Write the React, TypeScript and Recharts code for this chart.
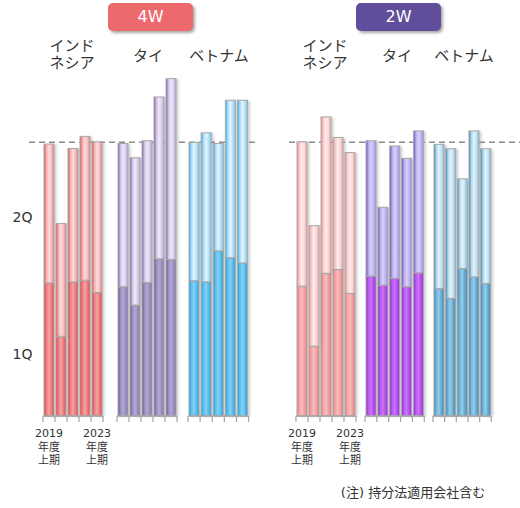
import React from 'react';
import { BarChart, Bar, XAxis, YAxis, ReferenceLine } from 'recharts';

// ---- data ----
const years = ['2019', '2020', '2021', '2022', '2023'];
const periodLines = ['年度', '上期'];
const segmentLabels = ['1Q', '2Q'];
const segmentLabelValues = [22.6, 72.7];
const referenceIndex = 100;

const w4IndonesiaQ1 = [48.6, 29.1, 49.0, 49.6, 45.1];
const w4IndonesiaQ2 = [50.7, 41.2, 48.7, 52.5, 55.0];
const w4ThailandQ1 = [47.2, 40.5, 48.8, 57.4, 57.2];
const w4ThailandQ2 = [52.3, 53.8, 51.7, 59.1, 66.0];
const w4VietnamQ1 = [49.4, 49.0, 60.3, 57.8, 55.9];
const w4VietnamQ2 = [50.5, 54.4, 39.2, 57.5, 59.4];

const w2IndonesiaQ1 = [47.4, 25.5, 52.1, 53.5, 44.8];
const w2IndonesiaQ2 = [52.7, 44.0, 57.1, 48.2, 51.4];
const w2ThailandQ1 = [51.1, 47.8, 50.3, 47.2, 52.3];
const w2ThailandQ2 = [49.4, 28.4, 48.3, 46.9, 51.8];
const w2VietnamQ1 = [46.6, 43.0, 53.9, 50.8, 48.4];
const w2VietnamQ2 = [52.6, 54.6, 32.7, 53.3, 49.2];

const countryLines = [['インド', 'ネシア'], ['タイ'], ['ベトナム']];
const panelTitles = ['4W', '2W'];
const noteText = '(注) 持分法適用会社含む';

// ---- styles ----
const FONT = "'DejaVu Sans', 'Noto Sans CJK JP', sans-serif";
const TEXT = '#333333';
const AXIS = '#a4a4a4';
const DOMAIN: [number, number] = [0, 130];

type Grad = string[];
interface GroupDef {
  key: string;
  q1: number[];
  q2: number[];
  plotLeft: number;
  plotWidth: number;
  showLabels: boolean;
  lower: Grad;
  upper: Grad;
}

const groups: GroupDef[] = [
  { key: 'l1', q1: w4IndonesiaQ1, q2: w4IndonesiaQ2, plotLeft: 43.3, plotWidth: 60, showLabels: true,
    lower: ['#de3c42', '#ef7e81', '#f5a2a3', '#ee7a7c', '#dc4a4e'],
    upper: ['#e04e54', '#f5b0b2', '#fcdcdc', '#f7bcbd', '#e87a7e'] },
  { key: 'l2', q1: w4ThailandQ1, q2: w4ThailandQ2, plotLeft: 116.7, plotWidth: 60, showLabels: false,
    lower: ['#625688', '#9a8ec0', '#b2a8d2', '#9c90c2', '#7c70a6'],
    upper: ['#8056ac', '#cfc2e6', '#efeaf8', '#d9cfec', '#b4a4d6'] },
  { key: 'l3', q1: w4VietnamQ1, q2: w4VietnamQ2, plotLeft: 187.7, plotWidth: 60.6, showLabels: false,
    lower: ['#1e9edc', '#5ec0ee', '#86d0f4', '#56bcec', '#28a2dc'],
    upper: ['#36ace8', '#acdcf5', '#e6f5fd', '#b8e1f6', '#78c6ee'] },
  { key: 'r1', q1: w2IndonesiaQ1, q2: w2IndonesiaQ2, plotLeft: 295.7, plotWidth: 60, showLabels: true,
    lower: ['#ec7a7c', '#f4a6a6', '#f8bebe', '#f29c9c', '#ea8082'],
    upper: ['#ee8c8e', '#f9cccc', '#feeeee', '#fad2d2', '#f2a2a4'] },
  { key: 'r2', q1: w2ThailandQ1, q2: w2ThailandQ2, plotLeft: 365, plotWidth: 59.3, showLabels: false,
    lower: ['#8228c8', '#bb58f4', '#cc72fa', '#b44cee', '#9434d6'],
    upper: ['#6c4cb8', '#b6aaee', '#d8d2fa', '#c0b6f0', '#9c8cde'] },
  { key: 'r3', q1: w2VietnamQ1, q2: w2VietnamQ2, plotLeft: 432.7, plotWidth: 58.3, showLabels: false,
    lower: ['#357ea8', '#76badf', '#92cce8', '#62a8d0', '#4289b4'],
    upper: ['#3c84b2', '#b4d9ee', '#e4f3fa', '#c2e0f0', '#84b9d8'] },
];

const countryLabelPos = [
  [72, 148, 219],
  [325, 397, 464],
];

const PAD = 22;
const PLOT_TOP = 60;
const AXIS_Y = 416;

const Gradient = ({ id, stops }: { id: string; stops: string[] }) => (
  <linearGradient id={id} x1="0" y1="0" x2="1" y2="0">
    {stops.map((c, i) => (
      <stop key={i} offset={`${(i / (stops.length - 1)) * 100}%`} stopColor={c} />
    ))}
  </linearGradient>
);

const makeShape = (gradId: string, blurId: string) => (props: any) => {
  const { x, y, width, height } = props;
  if (!height || height <= 0) return <g />;
  return (
    <g>
      <rect x={x + 2.5} y={y + 0.5} width={width} height={height} fill="#8a8a8a" opacity={0.4} filter={`url(#${blurId})`} />
      <rect x={x} y={y} width={width} height={height} fill={`url(#${gradId})`} stroke="#a9a9a9" strokeWidth={1} />
    </g>
  );
};

const makeTick = (bw: number, showLabels: boolean) => (props: any) => {
  const { x, y, index } = props;
  const left = x - bw / 2;
  const right = x + bw / 2;
  return (
    <g>
      <line x1={left} y1={y} x2={left} y2={y + 6} stroke={AXIS} strokeWidth={1.2} />
      {index === years.length - 1 && <line x1={right} y1={y} x2={right} y2={y + 6} stroke={AXIS} strokeWidth={1.2} />}
      {showLabels && (index === 0 || index === years.length - 1) && (
        <text x={x} y={y + 21} textAnchor="middle" fontSize={11} fill={TEXT} fontFamily={FONT}>
          <tspan x={x} dy={0}>{years[index]}</tspan>
          {periodLines.map((l, i) => (
            <tspan key={i} x={x} dy={13.5}>{l}</tspan>
          ))}
        </text>
      )}
    </g>
  );
};

const GroupChart = ({ g }: { g: GroupDef }) => {
  const data = years.map((yr, i) => ({ year: yr, q1: g.q1[i], q2: g.q2[i] }));
  const bw = g.plotWidth / years.length;
  const lowId = `${g.key}-low`;
  const upId = `${g.key}-up`;
  const blurId = `${g.key}-blur`;
  return (
    <div style={{ position: 'absolute', left: g.plotLeft - PAD, top: 0 }}>
      <BarChart
        width={g.plotWidth + PAD * 2}
        height={476}
        data={data}
        margin={{ top: PLOT_TOP, right: PAD, bottom: 0, left: PAD }}
        barGap={0}
      >
        <defs>
          <Gradient id={lowId} stops={g.lower} />
          <Gradient id={upId} stops={g.upper} />
          <filter id={blurId} x="-50%" y="-10%" width="200%" height="120%">
            <feGaussianBlur stdDeviation="0.9" />
          </filter>
        </defs>
        <XAxis
          dataKey="year"
          height={60}
          interval={0}
          tickSize={0}
          tickMargin={0}
          tickLine={false}
          axisLine={{ stroke: AXIS, strokeWidth: 1.5 }}
          tick={makeTick(bw, g.showLabels)}
        />
        <YAxis hide domain={DOMAIN} />
        <Bar dataKey="q1" stackId="s" barSize={10} shape={makeShape(lowId, blurId)} isAnimationActive={false} />
        <Bar dataKey="q2" stackId="s" barSize={10} shape={makeShape(upId, blurId)} isAnimationActive={false} />
      </BarChart>
    </div>
  );
};

const bgData = countryLines.map((c) => ({ name: c.join(''), base: 0 }));

const YLabelTick = (props: any) => {
  const { y, index } = props;
  return (
    <text x={22.5} y={y + 5} textAnchor="middle" fontSize={14} fill={TEXT} fontFamily={FONT}>
      {segmentLabels[index]}
    </text>
  );
};

const BackgroundChart = ({ left, width, withLabels }: { left: number; width: number; withLabels: boolean }) => (
  <div style={{ position: 'absolute', left, top: 0 }}>
    <BarChart width={width} height={AXIS_Y} data={bgData} margin={{ top: PLOT_TOP, right: 0, bottom: 0, left: 0 }}>
      <XAxis dataKey="name" hide />
      {withLabels ? (
        <YAxis
          domain={DOMAIN}
          width={29}
          ticks={segmentLabelValues}
          interval={0}
          axisLine={false}
          tickLine={false}
          tick={<YLabelTick />}
        />
      ) : (
        <YAxis hide domain={DOMAIN} />
      )}
      <Bar dataKey="base" fill="none" isAnimationActive={false} />
      <ReferenceLine y={referenceIndex} stroke="#8c8c8c" strokeWidth={1.5} strokeDasharray="6 4" ifOverflow="visible" />
    </BarChart>
  </div>
);

const Badge = ({ left, color, text }: { left: number; color: string; text: string }) => (
  <div
    style={{
      position: 'absolute', left, top: 3, width: 85, height: 28, background: color, borderRadius: 5,
      boxShadow: '2px 2px 3px rgba(0,0,0,0.35)', color: '#fff', fontFamily: FONT, fontSize: 16,
      lineHeight: '28px', textAlign: 'center',
    }}
  >
    {text}
  </div>
);

export default function App() {
  return (
    <div style={{ position: 'absolute', left: 0, top: 0, width: 520, height: 508, background: '#fff', overflow: 'hidden' }}>
      <BackgroundChart left={0} width={258} withLabels />
      <BackgroundChart left={289} width={231} withLabels={false} />
      {groups.map((g) => (
        <GroupChart key={g.key} g={g} />
      ))}
      <Badge left={108} color="#ec6a6d" text={panelTitles[0]} />
      <Badge left={356} color="#604e9a" text={panelTitles[1]} />
      {countryLabelPos.map((row, p) =>
        row.map((cx, i) => {
          const lines = countryLines[i];
          const top = lines.length > 1 ? 37.5 : 47.5;
          return (
            <div
              key={`${p}-${i}`}
              style={{
                position: 'absolute', left: cx - 50, top, width: 100, textAlign: 'center',
                fontFamily: FONT, fontSize: 15, lineHeight: '17px', color: TEXT,
              }}
            >
              {lines.map((l, k) => (
                <div key={k}>{l}</div>
              ))}
            </div>
          );
        })
      )}
      <div
        style={{
          position: 'absolute', left: 313, top: 484, width: 200, textAlign: 'center',
          fontFamily: FONT, fontSize: 13, lineHeight: '18px', color: TEXT,
        }}
      >
        {noteText}
      </div>
    </div>
  );
}
